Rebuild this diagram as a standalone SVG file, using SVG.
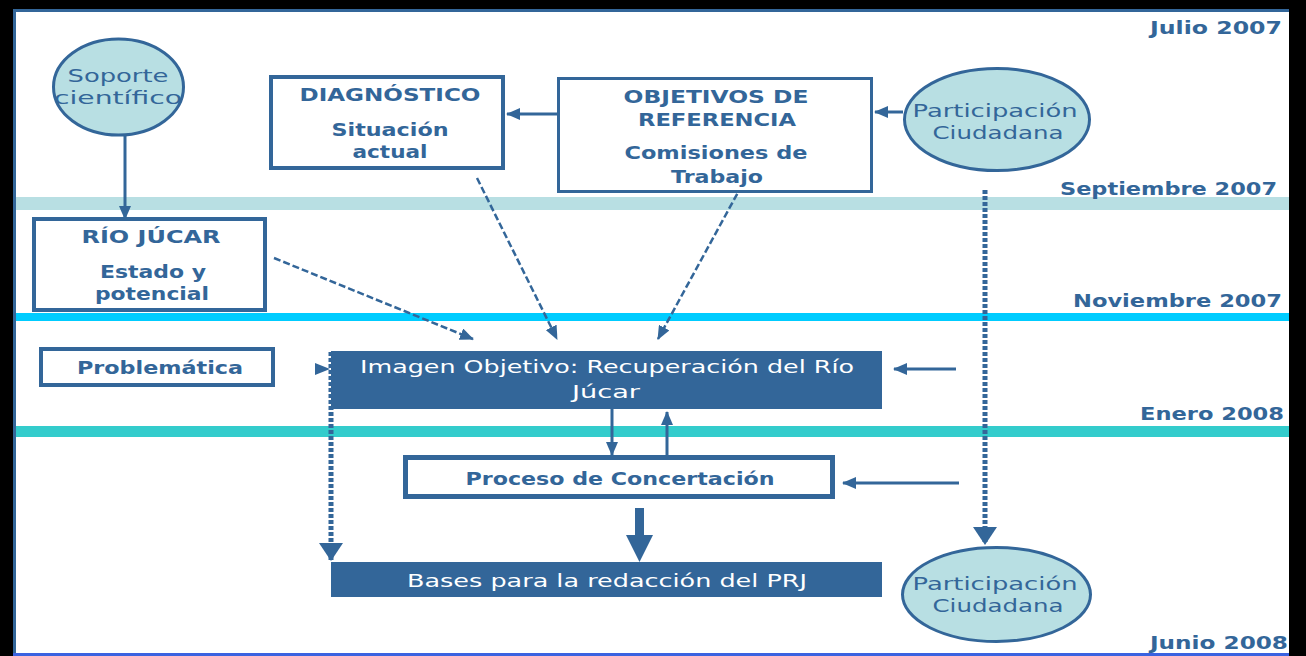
<svg xmlns="http://www.w3.org/2000/svg" width="1306" height="656" viewBox="0 0 1306 656">
<defs>
<style>
.t{font-family:"DejaVu Sans","Verdana",sans-serif;fill:#336699;font-size:17px;}
.b{font-weight:bold;}
.w{fill:#ffffff;}
.box{fill:#ffffff;stroke:#336699;}
.ell{fill:#b8dfe3;stroke:#336699;stroke-width:3;}
.fill{fill:#336699;}
.ln{stroke:#336699;stroke-width:3;fill:none;}
.dash{stroke:#336699;stroke-width:2.5;fill:none;stroke-dasharray:7 3;}
.dot{stroke:#336699;stroke-width:5;fill:none;stroke-dasharray:4 2;}
</style>
<marker id="ah" markerUnits="userSpaceOnUse" markerWidth="14" markerHeight="12" refX="13" refY="6" orient="auto">
<path d="M0,0 L14,6 L0,12 z" fill="#336699"/>
</marker>
<marker id="ahb" markerUnits="userSpaceOnUse" markerWidth="18" markerHeight="24" refX="17" refY="12" orient="auto">
<path d="M0,0 L18,12 L0,24 z" fill="#336699"/>
</marker>
</defs>
<rect x="0" y="0" width="1306" height="656" fill="#000000"/>
<rect x="13" y="9" width="1276" height="647" fill="#ffffff"/>
<rect x="13" y="9" width="1276" height="3" fill="#336699"/>
<rect x="13" y="9" width="3" height="647" fill="#336699"/>
<rect x="13" y="653" width="1276" height="3" fill="#3a62e0"/>
<g id="bands">
<rect x="16" y="197" width="1273" height="13" fill="#b8dfe3"/>
<rect x="16" y="313" width="1273" height="8" fill="#00ccff"/>
<rect x="16" y="426" width="1273" height="11" fill="#33cccc"/>
</g>
<g id="dates">
<text class="t b" x="1282" y="34" text-anchor="end" textLength="132" lengthAdjust="spacingAndGlyphs">Julio 2007</text>
<text class="t b" x="1277" y="195" text-anchor="end" textLength="217" lengthAdjust="spacingAndGlyphs">Septiembre 2007</text>
<text class="t b" x="1282" y="307" text-anchor="end" textLength="209" lengthAdjust="spacingAndGlyphs">Noviembre 2007</text>
<text class="t b" x="1284" y="420" text-anchor="end" textLength="144" lengthAdjust="spacingAndGlyphs">Enero 2008</text>
<text class="t b" x="1288" y="649" text-anchor="end" textLength="138" lengthAdjust="spacingAndGlyphs">Junio 2008</text>
</g>
<g id="connectors">
<line class="ln" x1="125" y1="136" x2="125" y2="219" marker-end="url(#ah)"/>
<line class="ln" x1="570" y1="114" x2="507" y2="114" marker-end="url(#ah)"/>
<line class="ln" x1="903" y1="112" x2="875" y2="112" marker-end="url(#ah)"/>
<line class="dot" x1="985" y1="190" x2="985" y2="544" marker-end="url(#ahb)"/>
<line class="dash" x1="274" y1="258" x2="473" y2="339" marker-end="url(#ah)"/>
<line class="dash" x1="477" y1="178" x2="557" y2="339" marker-end="url(#ah)"/>
<line class="dash" x1="742" y1="185" x2="658" y2="339" marker-end="url(#ah)"/>
<line class="ln" x1="956" y1="369" x2="894" y2="369" marker-end="url(#ah)"/>
<line class="ln" x1="959" y1="483" x2="843" y2="483" marker-end="url(#ah)"/>
<line class="ln" x1="612" y1="409" x2="612" y2="455" marker-end="url(#ah)"/>
<line class="ln" x1="667" y1="455" x2="667" y2="412" marker-end="url(#ah)"/>
<polygon points="635,508 644,508 644,535 653,535 639.5,562 626,535 635,535" fill="#336699"/>
<line class="dot" x1="331" y1="352" x2="331" y2="560" marker-end="url(#ahb)"/>
<polygon points="315,363 330,369 315,375" fill="#336699"/>
</g>
<g id="soporte">
<ellipse class="ell" cx="118.5" cy="87" rx="65" ry="48"/>
<text class="t" x="118" y="82" text-anchor="middle" textLength="101" lengthAdjust="spacingAndGlyphs">Soporte</text>
<text class="t" x="118" y="104" text-anchor="middle" textLength="128" lengthAdjust="spacingAndGlyphs">científico</text>
</g>
<g id="diagnostico">
<rect class="box" x="271" y="77" width="232" height="91" stroke-width="4"/>
<text class="t b" x="390" y="101" text-anchor="middle" textLength="181" lengthAdjust="spacingAndGlyphs">DIAGNÓSTICO</text>
<text class="t b" x="390" y="136" text-anchor="middle" textLength="117" lengthAdjust="spacingAndGlyphs">Situación</text>
<text class="t b" x="390" y="158" text-anchor="middle" textLength="75" lengthAdjust="spacingAndGlyphs">actual</text>
</g>
<g id="objetivos">
<rect class="box" x="558.5" y="78.5" width="313" height="113" stroke-width="3"/>
<text class="t b" x="716" y="103" text-anchor="middle" textLength="185" lengthAdjust="spacingAndGlyphs">OBJETIVOS DE</text>
<text class="t b" x="717" y="126" text-anchor="middle" textLength="158" lengthAdjust="spacingAndGlyphs">REFERENCIA</text>
<text class="t b" x="716" y="159" text-anchor="middle" textLength="183" lengthAdjust="spacingAndGlyphs">Comisiones de</text>
<text class="t b" x="717" y="183" text-anchor="middle" textLength="92" lengthAdjust="spacingAndGlyphs">Trabajo</text>
</g>
<g id="participacion-top">
<ellipse class="ell" cx="997" cy="119.5" rx="92.5" ry="51"/>
<text class="t" x="995" y="117" text-anchor="middle" textLength="165" lengthAdjust="spacingAndGlyphs">Participación</text>
<text class="t" x="998" y="139" text-anchor="middle" textLength="131" lengthAdjust="spacingAndGlyphs">Ciudadana</text>
</g>
<g id="rio-jucar">
<rect class="box" x="34" y="219" width="231" height="91" stroke-width="4"/>
<text class="t b" x="151" y="243" text-anchor="middle" textLength="139" lengthAdjust="spacingAndGlyphs">RÍO JÚCAR</text>
<text class="t b" x="153" y="278" text-anchor="middle" textLength="106" lengthAdjust="spacingAndGlyphs">Estado y</text>
<text class="t b" x="152" y="300" text-anchor="middle" textLength="114" lengthAdjust="spacingAndGlyphs">potencial</text>
</g>
<g id="problematica">
<rect class="box" x="41" y="349" width="232" height="36" stroke-width="4"/>
<text class="t b" x="160" y="374" text-anchor="middle" textLength="166" lengthAdjust="spacingAndGlyphs">Problemática</text>
</g>
<g id="imagen-objetivo">
<rect class="fill" x="331" y="351" width="551" height="58"/>
<text class="t w" x="607" y="373" text-anchor="middle" textLength="494" lengthAdjust="spacingAndGlyphs">Imagen Objetivo: Recuperación del Río</text>
<text class="t w" x="606" y="398" text-anchor="middle" textLength="68" lengthAdjust="spacingAndGlyphs">Júcar</text>
</g>
<g id="proceso">
<rect class="box" x="405.5" y="457.5" width="427" height="39" stroke-width="5"/>
<text class="t b" x="620" y="485" text-anchor="middle" textLength="309" lengthAdjust="spacingAndGlyphs">Proceso de Concertación</text>
</g>
<g id="bases">
<rect class="fill" x="331" y="562" width="551" height="35"/>
<text class="t w" x="607" y="587" text-anchor="middle" textLength="400" lengthAdjust="spacingAndGlyphs">Bases para la redacción del PRJ</text>
</g>
<g id="participacion-bottom">
<ellipse class="ell" cx="996.5" cy="594.5" rx="94" ry="47"/>
<text class="t" x="995" y="590" text-anchor="middle" textLength="165" lengthAdjust="spacingAndGlyphs">Participación</text>
<text class="t" x="998" y="612" text-anchor="middle" textLength="131" lengthAdjust="spacingAndGlyphs">Ciudadana</text>
</g>
</svg>
